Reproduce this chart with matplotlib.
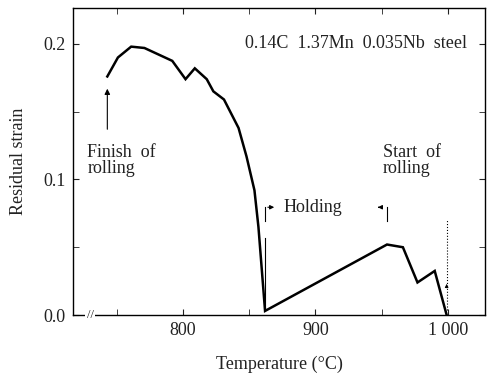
import matplotlib.pyplot as plt

# Datos
temperatura = [743, 751, 761, 771, 792, 802, 809, 818, 823, 831, 842, 848, 854, 857, 862,
               954, 966, 977, 990, 999]
deformacion = [0.176, 0.190, 0.198, 0.197, 0.1875, 0.174, 0.182, 0.174, 0.165, 0.159, 0.138,
               0.117, 0.092, 0.065, 0.003, 0.052, 0.050, 0.024, 0.0325, 0.0]
xticks = [800, 900, 1000]
xtick_labels = ['800', '900', '1 000']
yticks = [0.0, 0.1, 0.2]
ytick_labels = ['0.0', '0.1', '0.2']

plt.rcParams['font.family'] = ['Liberation Serif', 'DejaVu Serif']
gris = '#222222'

fig = plt.figure(figsize=(4.89, 3.75), dpi=100)
ax = fig.add_axes([0.149, 0.16, 0.843, 0.819])

ax.plot(temperatura, deformacion, color='black', lw=1.8, solid_joinstyle='miter')

ax.set_xlim(717, 1028)
ax.set_ylim(0, 0.2266)

ax.set_xticks(xticks)
ax.set_xticklabels(xtick_labels)
ax.set_xticks([750, 850, 950], minor=True)
ax.set_yticks(yticks)
ax.set_yticklabels(ytick_labels)
ax.set_yticks([0.05, 0.15], minor=True)
ax.tick_params(which='both', direction='in', top=True, right=True, length=4,
               labelsize=13, colors=gris, pad=5)
for s in ax.spines.values():
    s.set_linewidth(1.0)

ax.set_xlabel('Temperature (°C)', fontsize=13, color=gris, labelpad=12)
ax.set_ylabel('Residual strain', fontsize=13, color=gris, labelpad=12)

# Marca de corte del eje
ax.text(730, 0.0, '//', fontsize=9, ha='center', va='center', color=gris,
        bbox=dict(fc='white', ec='none', pad=1))

# Anotaciones
ax.text(0.955, 0.885, '0.14C  1.37Mn  0.035Nb  steel', transform=ax.transAxes,
        ha='right', va='center', fontsize=13, color=gris)
ax.annotate('', xy=(743, 0.169), xytext=(743, 0.135),
            arrowprops=dict(arrowstyle='-|>', color='black', lw=0.8, mutation_scale=8))
ax.text(728, 0.114, 'Finish  of\nrolling', fontsize=13, color=gris, va='center',
        linespacing=0.95)
ax.text(951, 0.114, 'Start  of\nrolling', fontsize=13, color=gris, va='center',
        linespacing=0.95)

# Periodo de mantenimiento
ax.plot([862, 862], [0.069, 0.080], color='black', lw=0.8)
ax.plot([862, 862], [0.004, 0.057], color='black', lw=0.8)
ax.annotate('', xy=(871, 0.0795), xytext=(862, 0.0795),
            arrowprops=dict(arrowstyle='-|>', color='black', lw=0.8, mutation_scale=6))
ax.text(876, 0.0795, 'Holding', fontsize=13, color=gris, va='center')
ax.plot([954, 954], [0.069, 0.080], color='black', lw=0.8)
ax.annotate('', xy=(945, 0.0795), xytext=(950, 0.0795),
            arrowprops=dict(arrowstyle='-|>', color='black', lw=0.8, mutation_scale=6))
ax.plot([999, 999], [0.004, 0.070], color='black', lw=0.8, ls=':')
ax.annotate('', xy=(999, 0.025), xytext=(999, 0.018),
            arrowprops=dict(arrowstyle='-|>', color='black', lw=0.6, mutation_scale=5))

fig.savefig('out.png', dpi=100)
